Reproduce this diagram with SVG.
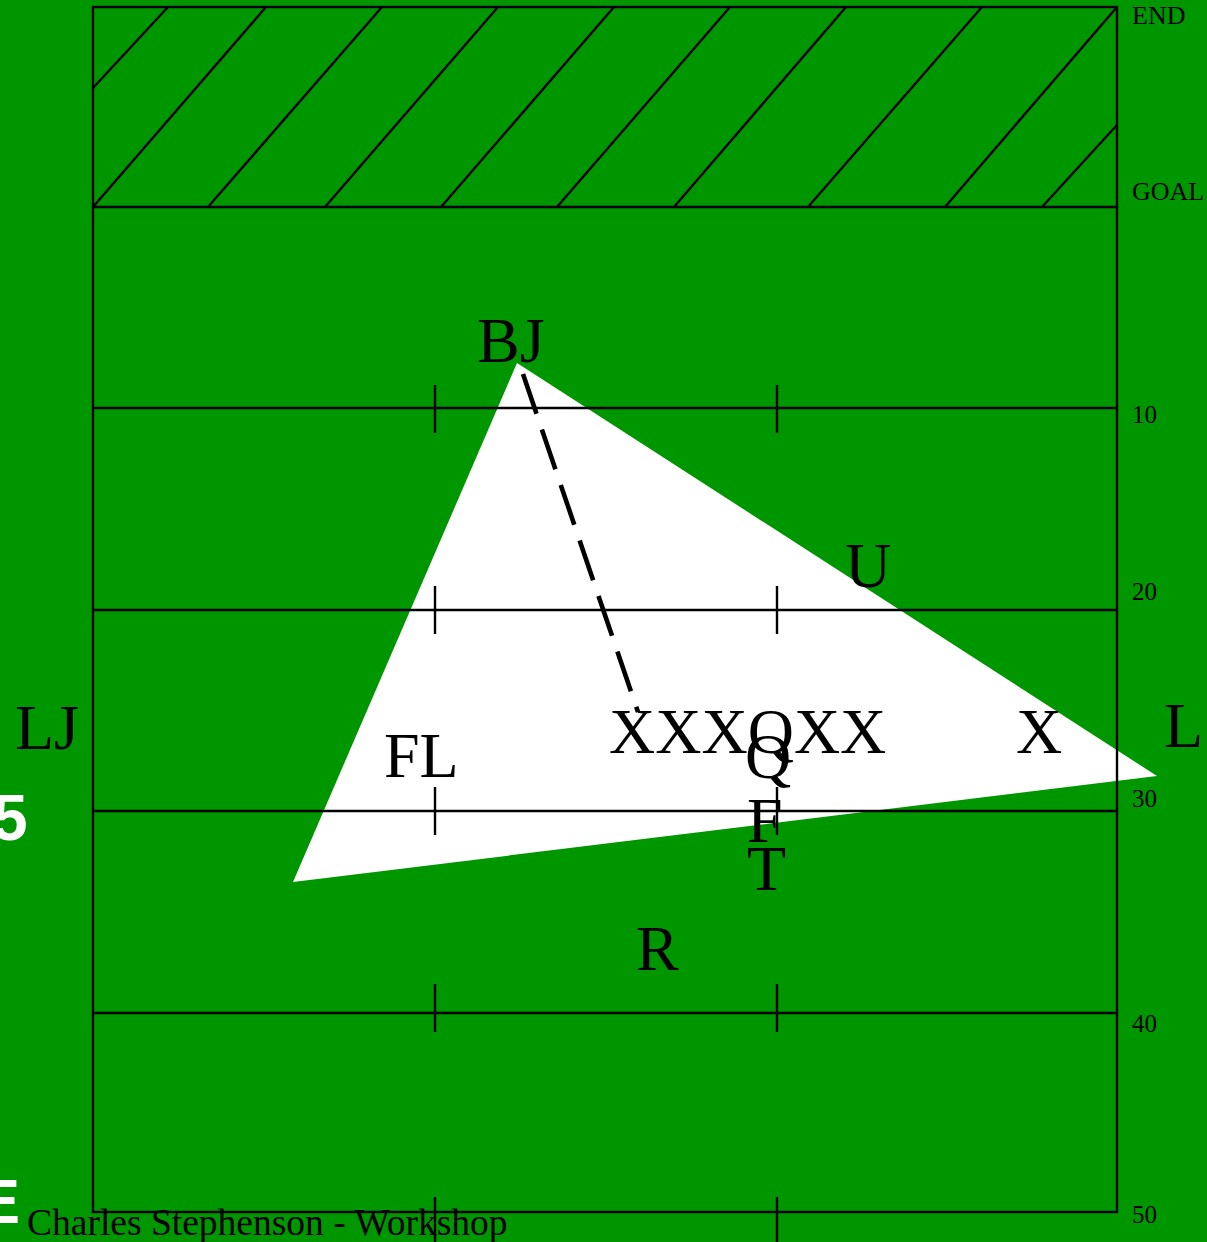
<svg xmlns="http://www.w3.org/2000/svg" width="1207" height="1242" viewBox="0 0 1207 1242">
<style>
.ln{stroke:#000;stroke-width:2.4;fill:none}
.big{font-family:"Liberation Serif","Times New Roman",serif;font-size:64px;fill:#000}
.sm{font-family:"Liberation Serif","Times New Roman",serif;font-size:25px;fill:#000}
.wh{font-family:"Liberation Sans",Arial,sans-serif;font-weight:bold;fill:#fff}
</style>
<rect x="0" y="0" width="1207" height="1242" fill="#009600"/>
<g id="endzone-hatch" class="ln">
<line x1="93" y1="88" x2="168" y2="7"/>
<line x1="93" y1="207" x2="266" y2="7"/>
<line x1="208" y1="207" x2="382" y2="7"/>
<line x1="325" y1="207" x2="498" y2="7"/>
<line x1="441" y1="207" x2="614" y2="7"/>
<line x1="557" y1="207" x2="730" y2="7"/>
<line x1="674" y1="207" x2="846" y2="7"/>
<line x1="808" y1="207" x2="982" y2="7"/>
<line x1="945" y1="207" x2="1117" y2="7"/>
<line x1="1042" y1="207" x2="1117" y2="125"/>
</g>
<g id="coverage-triangle">
<polygon points="517,363 1157,776 293,882" fill="#fff"/>
</g>
<g id="field" class="ln">
<rect x="93" y="7" width="1024" height="1205"/>
<line x1="93" y1="207" x2="1117" y2="207"/>
<line x1="93" y1="408" x2="1117" y2="408"/>
<line x1="93" y1="610" x2="1117" y2="610"/>
<line x1="93" y1="811" x2="1117" y2="811"/>
<line x1="93" y1="1013" x2="1117" y2="1013"/>
<line x1="435" y1="385" x2="435" y2="433"/>
<line x1="777" y1="385" x2="777" y2="433"/>
<line x1="435" y1="586" x2="435" y2="634"/>
<line x1="777" y1="586" x2="777" y2="634"/>
<line x1="435" y1="787" x2="435" y2="835"/>
<line x1="777" y1="787" x2="777" y2="835"/>
<line x1="435" y1="984" x2="435" y2="1032"/>
<line x1="777" y1="984" x2="777" y2="1032"/>
<line x1="435" y1="1197" x2="435" y2="1242"/>
<line x1="777" y1="1197" x2="777" y2="1242"/>
</g>
<g id="connectors">
<line x1="523" y1="374" x2="638" y2="712" stroke="#000" stroke-width="4.6" stroke-dasharray="42 16.6"/>
</g>
<g id="yard-labels" class="sm">
<text x="1132" y="24" style="font-size:26px">END</text>
<text x="1132" y="200" style="font-size:26px">GOAL</text>
<text x="1132" y="423">10</text>
<text x="1132" y="600">20</text>
<text x="1132" y="807">30</text>
<text x="1132" y="1032">40</text>
<text x="1132" y="1223">50</text>
</g>
<g id="node-BJ"><text class="big" x="477" y="362">BJ</text></g>
<g id="node-U"><text class="big" x="845" y="587">U</text></g>
<g id="node-LJ"><text class="big" x="15" y="749">LJ</text></g>
<g id="node-L"><text class="big" x="1164" y="747">L</text></g>
<g id="node-FL"><text class="big" x="384" y="777">FL</text></g>
<g id="node-line"><text class="big" x="609" y="753">XXXQXX</text></g>
<g id="node-X"><text class="big" x="1016" y="753">X</text></g>
<g id="node-Q"><text class="big" x="745" y="778">Q</text></g>
<g id="node-F"><text class="big" x="747" y="842">F</text></g>
<g id="node-T"><text class="big" x="747" y="890">T</text></g>
<g id="node-R"><text class="big" x="636" y="970">R</text></g>
<g id="edge-marks">
<text class="wh" x="-8" y="840" style="font-size:64px">5</text>
<text class="wh" x="-22" y="1223" style="font-size:63px">E</text>
</g>
<g id="credit"><text x="27" y="1235" style="font-family:'Liberation Serif','Times New Roman',serif;font-size:37.5px;fill:#000">Charles Stephenson - Workshop</text></g>
</svg>
